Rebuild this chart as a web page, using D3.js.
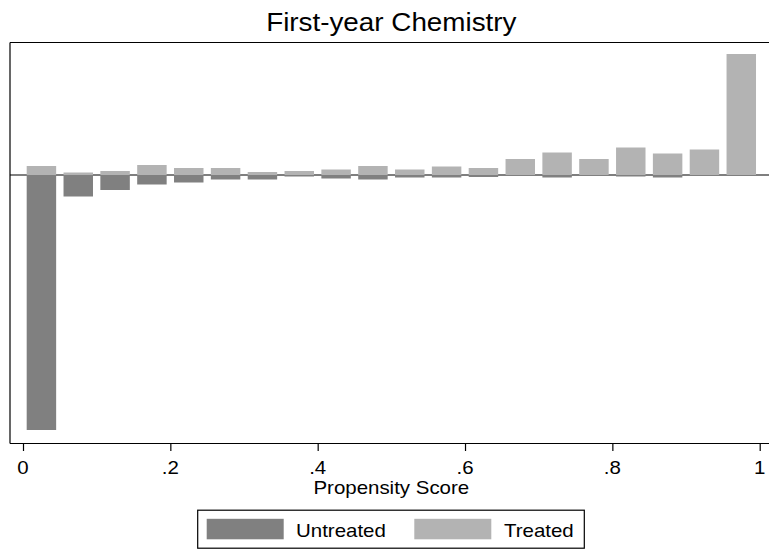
<!DOCTYPE html>
<html>
<head>
<meta charset="utf-8">
<script src="https://cdn.jsdelivr.net/npm/d3@7"></script>
<style>
  html, body { margin: 0; padding: 0; background: #fff; }
  svg { display: block; }
  text { font-family: "Liberation Sans", Arial, Helvetica, sans-serif; fill: #000; }
</style>
</head>
<body>
<svg id="chart" width="769" height="549"></svg>
<script>
// Propensity score bins (bin centres, width 0.05)
const binCenters = [0.025, 0.075, 0.125, 0.175, 0.225, 0.275, 0.325, 0.375, 0.425, 0.475,
                    0.525, 0.575, 0.625, 0.675, 0.725, 0.775, 0.825, 0.875, 0.925, 0.975];
// Frequencies per bin; treated drawn upward, untreated downward
const treated   = [18, 5, 8, 20, 14, 14, 6, 8, 11, 18, 11, 17, 14, 32, 45, 32, 55, 43, 51, 242];
const untreated = [510, 43, 30, 19, 15, 9, 9, 3, 7, 9, 5, 5, 4, 2, 5, 2, 3, 5, 2, 1];
const xTicks = [0, 0.2, 0.4, 0.6, 0.8, 1];
const seriesNames = ["Untreated", "Treated"];
const seriesColors = ["#808080", "#b3b3b3"];
const barWidth = 0.04;
const yExtent = [-537, 265];

const svg = d3.select("#chart");
const plot = { left: 10, right: 769, top: 42.5, bottom: 443.5 };

const x = d3.scaleLinear().domain([0, 1]).range([23, 759.7]);
const y = d3.scaleLinear().domain(yExtent).range([plot.bottom, plot.top]);

// helper: horizontally widened text
function label(g, str, px, py, size, anchor) {
  return g.append("text")
    .attr("transform", `translate(${px},${py}) scale(1.1,1)`)
    .attr("text-anchor", anchor || "middle")
    .attr("font-size", size)
    .text(str);
}

// plot region frame: top, left and bottom edges (right edge lies past the canvas)
const frame = svg.append("g").attr("stroke", "#000").attr("stroke-width", 1.2);
frame.append("line").attr("x1", plot.left).attr("x2", plot.right).attr("y1", plot.top).attr("y2", plot.top);
frame.append("line").attr("x1", plot.left).attr("x2", plot.left).attr("y1", plot.top).attr("y2", plot.bottom);
frame.append("line").attr("x1", plot.left).attr("x2", plot.right).attr("y1", plot.bottom).attr("y2", plot.bottom);

// reference line at zero (beneath the bars)
svg.append("line")
  .attr("x1", plot.left).attr("x2", plot.right)
  .attr("y1", y(0)).attr("y2", y(0))
  .attr("stroke", "#000").attr("stroke-width", 1.2);

const bw = x(barWidth) - x(0);

// untreated bars (downward)
svg.append("g").selectAll("rect")
  .data(binCenters.map((c, i) => ({ c, v: untreated[i] })))
  .join("rect")
  .attr("x", d => x(d.c) - bw / 2)
  .attr("width", bw)
  .attr("y", y(0))
  .attr("height", d => y(-d.v) - y(0))
  .attr("fill", seriesColors[0]);

// treated bars (upward)
svg.append("g").selectAll("rect")
  .data(binCenters.map((c, i) => ({ c, v: treated[i] })))
  .join("rect")
  .attr("x", d => x(d.c) - bw / 2)
  .attr("width", bw)
  .attr("y", d => y(d.v))
  .attr("height", d => y(0) - y(d.v))
  .attr("fill", seriesColors[1]);

// x axis
const xAxis = d3.axisBottom(x)
  .tickValues(xTicks)
  .tickSize(7.5)
  .tickFormat(d => d === 0 ? "0" : d === 1 ? "1" : d3.format(".1f")(d).replace(/^0/, ""));
const ax = svg.append("g").attr("transform", `translate(0,${plot.bottom})`).call(xAxis);
ax.select(".domain").remove();
ax.selectAll(".tick line").attr("stroke", "#000").attr("stroke-width", 1.2);
ax.selectAll(".tick text").remove();
xTicks.forEach(t => label(svg, xAxis.tickFormat()(t), x(t), 474.3, 18.6));

// axis title and chart title
label(svg, "Propensity Score", 391.3, 494.3, 18.6);
label(svg, "First-year Chemistry", 391.3, 31, 25.3);

// legend
const lg = svg.append("g");
lg.append("rect")
  .attr("x", 197.7).attr("y", 510.2).attr("width", 386.6).attr("height", 38)
  .attr("fill", "#fff").attr("stroke", "#000").attr("stroke-width", 1.2);
const swatchX = [206.7, 414.3];
const textX = [296, 504];
seriesNames.forEach((n, i) => {
  lg.append("rect")
    .attr("x", swatchX[i]).attr("y", 518.8).attr("width", 77).attr("height", 20.5)
    .attr("fill", seriesColors[i]);
  label(lg, n, textX[i], 537.2, 18.6, "start");
});
</script>
</body>
</html>
